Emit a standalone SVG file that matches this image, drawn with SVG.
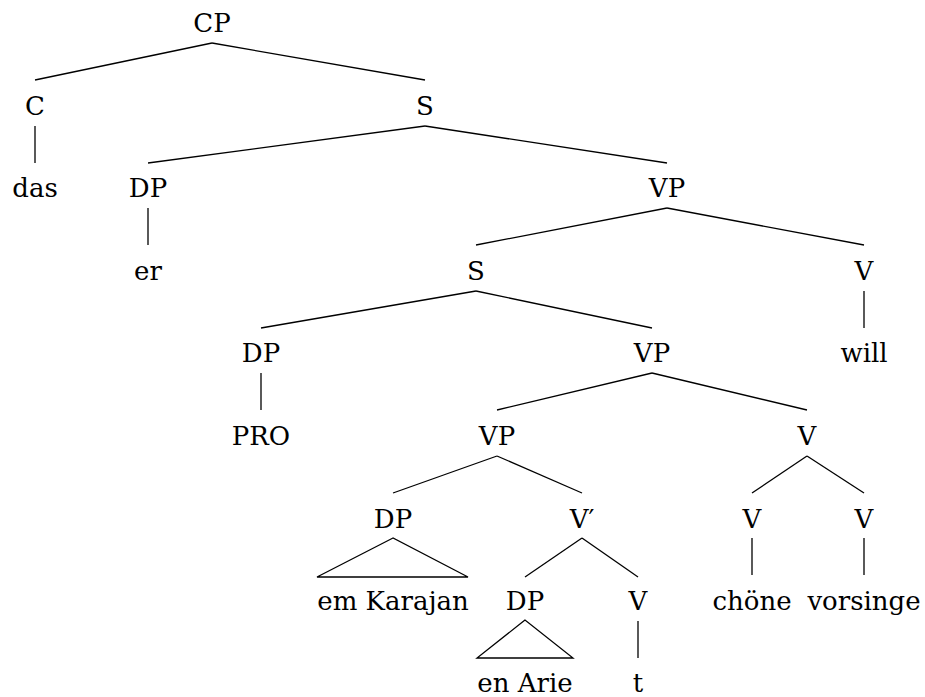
<svg xmlns="http://www.w3.org/2000/svg" width="925" height="697" viewBox="0 0 925 697">
<style>
text{font-family:"DejaVu Serif","Liberation Serif",serif;font-size:26px;fill:#000;text-anchor:middle}
.e line,.e polygon{stroke:#000;stroke-width:1.3;fill:none}
</style>
<rect width="925" height="697" fill="#fff"/>
<g id="edges" class="e">
<line x1="212" y1="43" x2="35" y2="80"/>
<line x1="212" y1="43" x2="425" y2="80"/>
<line x1="35" y1="126" x2="35" y2="163"/>
<line x1="425" y1="126" x2="148" y2="163"/>
<line x1="425" y1="126" x2="667" y2="163"/>
<line x1="148" y1="208" x2="148" y2="245"/>
<line x1="667" y1="208" x2="476" y2="245"/>
<line x1="667" y1="208" x2="864" y2="245"/>
<line x1="476" y1="291" x2="261" y2="328"/>
<line x1="476" y1="291" x2="652" y2="328"/>
<line x1="864" y1="291" x2="864" y2="328"/>
<line x1="261" y1="373" x2="261" y2="410"/>
<line x1="652" y1="373" x2="497" y2="410"/>
<line x1="652" y1="373" x2="807" y2="410"/>
<line x1="497" y1="456" x2="393" y2="493"/>
<line x1="497" y1="456" x2="582" y2="493"/>
<line x1="807" y1="456" x2="752" y2="493"/>
<line x1="807" y1="456" x2="864" y2="493"/>
<polygon points="393,538 317,577 468,577"/>
<line x1="582" y1="538" x2="525" y2="577"/>
<line x1="582" y1="538" x2="638" y2="577"/>
<line x1="752" y1="538" x2="752" y2="575"/>
<line x1="864" y1="538" x2="864" y2="575"/>
<polygon points="525,620 477,658 573,658"/>
<line x1="638" y1="621" x2="638" y2="658"/>
</g>
<g id="n-cp"><text x="212" y="32">CP</text></g>
<g id="n-c"><text x="35" y="115">C</text></g>
<g id="n-s1"><text x="425" y="115">S</text></g>
<g id="n-das"><text x="35" y="197">das</text></g>
<g id="n-dp1"><text x="148" y="197">DP</text></g>
<g id="n-vp1"><text x="667" y="197">VP</text></g>
<g id="n-er"><text x="148" y="280">er</text></g>
<g id="n-s2"><text x="476" y="280">S</text></g>
<g id="n-v1"><text x="864" y="280">V</text></g>
<g id="n-dp2"><text x="261" y="362">DP</text></g>
<g id="n-vp2"><text x="652" y="362">VP</text></g>
<g id="n-will"><text x="864" y="362">will</text></g>
<g id="n-pro"><text x="261" y="445">PRO</text></g>
<g id="n-vp3"><text x="497" y="445">VP</text></g>
<g id="n-v2"><text x="807" y="445">V</text></g>
<g id="n-dp3"><text x="393" y="528">DP</text></g>
<g id="n-vbar"><text x="582" y="528">V′</text></g>
<g id="n-v3"><text x="752" y="528">V</text></g>
<g id="n-v4"><text x="864" y="528">V</text></g>
<g id="n-karajan"><text x="393" y="610">em Karajan</text></g>
<g id="n-dp4"><text x="525" y="610">DP</text></g>
<g id="n-v5"><text x="638" y="610">V</text></g>
<g id="n-choene"><text x="752" y="610">chöne</text></g>
<g id="n-vorsinge"><text x="864" y="610">vorsinge</text></g>
<g id="n-arie"><text x="525" y="692">en Arie</text></g>
<g id="n-t"><text x="638" y="692">t</text></g>
</svg>
